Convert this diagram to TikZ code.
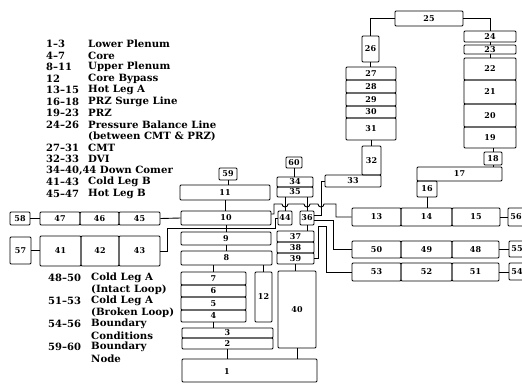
\documentclass[tikz,border=0pt]{standalone}
\usepackage{fontspec}
\setmainfont{DejaVu Serif}
\newcommand\legw[1]{\scalebox{1.02}[1]{#1}}
\begin{document}
\begin{tikzpicture}[x=1pt,y=-1pt,
  box/.style={draw, line width=0.9pt, rounded corners=1pt, inner sep=0pt, font=\bfseries\fontsize{8}{9}\selectfont},
  conn/.style={line width=0.9pt},
  leg/.style={anchor=west, inner sep=0pt, font=\bfseries\fontsize{10}{10}\selectfont}]
\useasboundingbox (0,0) rectangle (522,383);
\clip (0,0) rectangle (522,383);
\newcommand\bx[6]{\node[box, minimum width={(#4-#2)*1pt}, minimum height={(#5-#3)*1pt}] (#1) at ({(#2+#4)/2},{(#3+#5)/2}) {#6};}
% legend
\foreach \n/\a/\b [count=\i from 0] in {1/1--3/Lower Plenum, 2/4--7/Core, 3/8--11/Upper Plenum, 4/12/Core Bypass, 5/13--15/Hot Leg A, 6/16--18/PRZ Surge Line, 7/19--23/PRZ, 8/24--26/Pressure Balance Line, 9//(between CMT \& PRZ), 10/27--31/CMT, 11/32--33/DVI, 13/41--43/Cold Leg B, 14/45--47/Hot Leg B}{
  \pgfmathsetmacro\yy{44+11.5*(\n-1)}
  \node[leg] (ln\n) at (46,\yy) {\a};
  \node[leg] (ld\n) at (88,\yy) {\legw{\b}};
}
\node[leg] (ln12) at (46,{44+11.5*11}) {34--40,44 \legw{Down Comer}};
\foreach \n/\a/\b [count=\i from 0] in {15/48--50/Cold Leg A, 16//(Intact Loop), 17/51--53/Cold Leg A, 18//(Broken Loop), 19/54--56/Boundary, 20//Conditions, 21/59--60/Boundary, 22//Node}{
  \node[leg] (ln\n) at (48,{278+11.5*\i}) {\a};
  \node[leg] (ld\n) at (91,{278+11.5*\i}) {\legw{\b}};
}
% vessel
\bx{b11}{180}{185}{270}{200}{11}
\bx{b10}{181}{211}{271}{225}{10}
\bx{b9}{181}{232}{271}{245}{9}
\bx{b8}{181}{251}{272}{265}{8}
\bx{b7}{181}{272}{246}{285}{7}
\bx{b6}{181}{285}{246}{297}{6}
\bx{b5}{181}{297}{246}{310}{5}
\bx{b4}{181}{310}{246}{322}{4}
\bx{b12}{255}{272}{272}{322}{12}
\bx{b3}{182}{328}{273}{338}{3}
\bx{b2}{182}{338}{273}{349}{2}
\bx{b1}{182}{359}{317}{382}{}
\node[font=\bfseries\fontsize{8}{9}\selectfont] (t1) at (227,372) {1};
\bx{b40}{278}{271}{316}{348}{40}
\bx{b37}{277}{231}{314}{242}{37}
\bx{b38}{277}{242}{314}{253}{38}
\bx{b39}{277}{253}{314}{264}{39}
\bx{b44}{278}{211}{292}{225}{44}
\bx{b36}{300}{211}{314}{225}{36}
\bx{b34}{277}{177}{313}{187}{34}
\bx{b35}{277}{187}{313}{197}{35}
\bx{b60}{286}{157}{302}{168}{60}
\bx{b59}{219}{168}{237}{180}{59}
% CMT, DVI
\bx{b33}{325}{175}{381}{187}{33}
\bx{b32}{362}{146}{381}{175}{32}
\bx{b31}{346}{118}{396}{140}{31}
\bx{b30}{346}{106}{396}{118}{30}
\bx{b29}{346}{93}{396}{106}{29}
\bx{b28}{346}{80}{396}{93}{28}
\bx{b27}{346}{67}{396}{80}{27}
\bx{b26}{362}{36}{379}{62}{26}
\bx{b25}{395}{11}{463}{26}{25}
% PRZ
\bx{b24}{464}{31}{516}{42}{24}
\bx{b23}{464}{45}{516}{54}{23}
\bx{b22}{464}{58}{516}{80}{22}
\bx{b21}{464}{80}{516}{104}{21}
\bx{b20}{464}{104}{516}{127}{20}
\bx{b19}{464}{127}{516}{148}{19}
\bx{b18}{484}{152}{502}{165}{18}
\bx{b17}{417}{167}{502}{181}{17}
\bx{b16}{417}{181}{437}{197}{16}
% loops
\bx{b13}{352}{208}{401}{226}{13}
\bx{b14}{401}{208}{452}{226}{14}
\bx{b15}{452}{208}{500}{226}{15}
\bx{b56}{508}{208}{524}{226}{56}
\bx{b50}{352}{241}{401}{258}{50}
\bx{b49}{401}{241}{452}{258}{49}
\bx{b48}{452}{241}{499}{258}{48}
\bx{b55}{509}{241}{525}{257}{55}
\bx{b53}{352}{263}{401}{281}{53}
\bx{b52}{401}{263}{452}{281}{52}
\bx{b51}{452}{263}{499}{281}{51}
\bx{b54}{509}{263}{525}{280}{54}
\bx{b47}{40}{212}{80}{225}{47}
\bx{b46}{80}{212}{119}{225}{46}
\bx{b45}{119}{212}{160}{225}{45}
\bx{b58}{10}{212}{30}{225}{58}
\bx{b41}{40}{236}{81}{266}{41}
\bx{b42}{81}{236}{119}{266}{42}
\bx{b43}{119}{236}{160}{266}{43}
\bx{b57}{10}{237}{31}{264}{57}
% connectors
\draw[conn] (b58.east) -- (b47.west);
\draw[conn] (b57.east) -- (b41.west |- b57.east);
\draw[conn] (b45.east) -- (b10.west);
\draw[conn] (b59.south) -- (b59.south |- b11.north);
\draw[conn] (b11.south) -- (b11.south |- b10.north);
\draw[conn] (b10.south) -- (b10.south |- b9.north);
\draw[conn] (b9.south) -- (b9.south |- b8.north);
\draw[conn] (b7.north) -- (b7.north |- b8.south);
\draw[conn] (b12.north) -- (b12.north |- b8.south);
\draw[conn] (b4.south) -- (b4.south |- b3.north);
\draw[conn] (b2.south) -- (b2.south |- b1.north);
\draw[conn] (b40.south) -- (b40.south |- b1.north);
\draw[conn] (b39.south) -- (b39.south |- b40.north);
\draw[conn] (b36.south) -- (b36.south |- b37.north);
\draw[conn] (b60.south) -- (b60.south |- b34.north);
\draw[conn] (b44.north) -- (b44.north |- b35.south);
\draw[conn] (b36.north) -- (b36.north |- b35.south);
\draw[conn] (b43.east) -- (167,251) -- (167,228) -- (275,228) -- (275,218) -- (b44.west);
\draw[conn] (271,214) -- (274,214) -- (274,204) -- (282,204) arc[start angle=180,end angle=0,radius=3] -- (304,204) arc[start angle=180,end angle=0,radius=3] -- (318,204) arc[start angle=180,end angle=0,radius=3] -- (336,204) -- (336,217) -- (b13.west);
\draw[conn] (b33.west) -- (321,181) -- (321,215) -- (b36.east |- 0,215);
\draw[conn] (b50.west) -- (333,249.5) -- (333,220) -- (b36.east |- 0,220);
\draw[conn] (b53.west) -- (326,272) -- (326,226) -- (318,226) -- (318,258) -- (b39.east |- 0,258);
\draw[conn] (b26.south) -- (b26.south |- b27.north);
\draw[conn] (b31.south) -- (b31.south |- b32.north);
\draw[conn] (b25.west) -- (370,18.5) -- (370,36);
\draw[conn] (b25.east) -- (490,18.5) -- (490,31);
\draw[conn] (490,42) -- (490,45);
\draw[conn] (490,54) -- (490,58);
\draw[conn] (b19.south -| b18.north) -- (b18.north);
\draw[conn] (b18.south) -- (b18.south |- b17.north);
\draw[conn] (b16.south) -- (b16.south |- b14.north);
\draw[conn] (b15.east) -- (b56.west);
\draw[conn] (b48.east) -- (b55.west |- b48.east);
\draw[conn] (b51.east) -- (b54.west |- b51.east);
\end{tikzpicture}
\end{document}
